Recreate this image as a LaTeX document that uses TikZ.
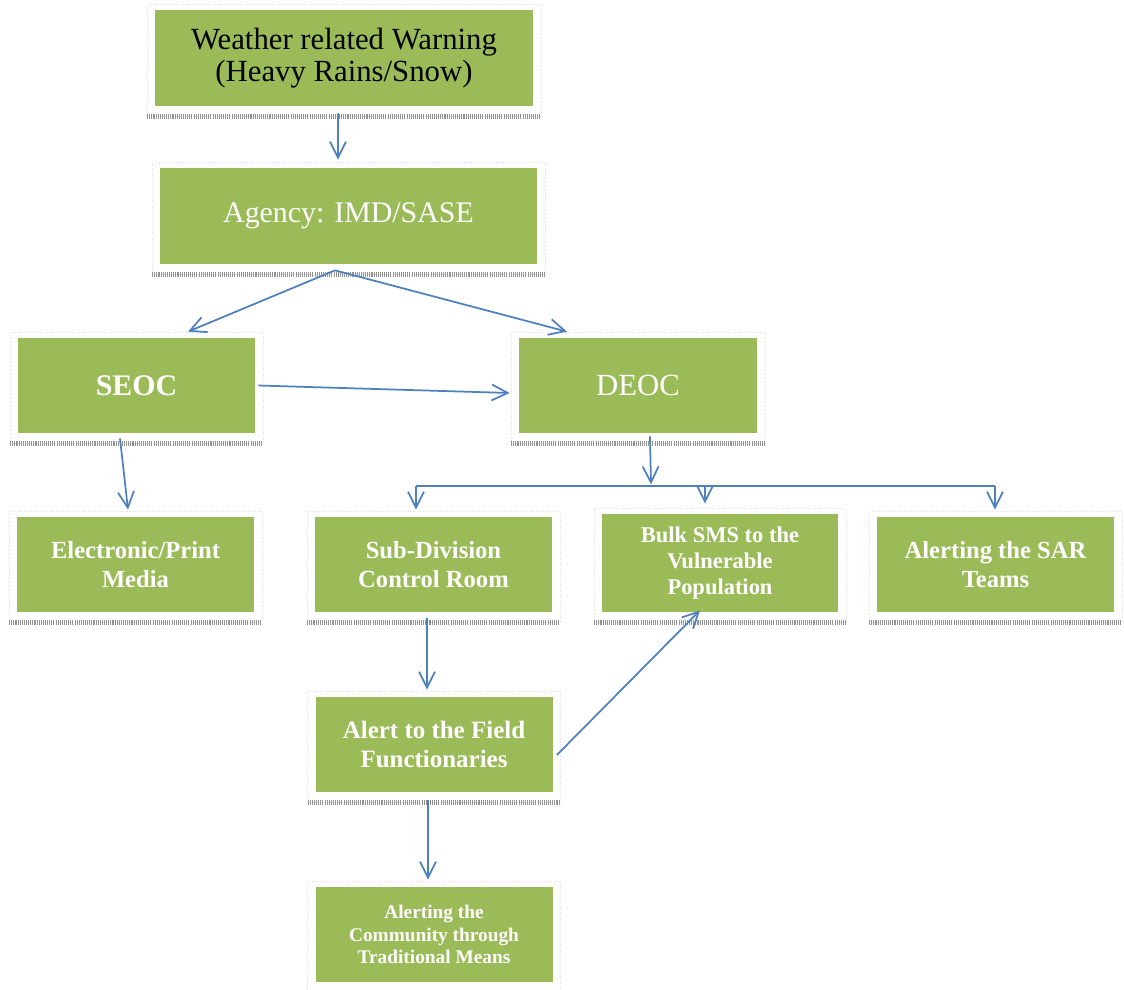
\documentclass[tikz,border=0pt]{standalone}
\usepackage{fontspec}
\setmainfont{Liberation Serif}
\usepackage{xcolor}
\usetikzlibrary{arrows.meta}

\definecolor{boxgreen}{HTML}{9BBB59}
\definecolor{arrowblue}{HTML}{4F81BD}

\begin{document}
\begin{tikzpicture}[
    box/.style={fill=boxgreen, draw=none, text=white, align=center, minimum width=4.74cm, minimum height=1.9cm, inner sep=0pt},
    big/.style={font=\fontsize{17}{19}\selectfont},
    mid/.style={font=\bfseries\fontsize{14}{16.8}\selectfont},
    frameline/.style={gray!25, densely dotted, line width=0.4pt},
    hatch/.style={gray!85, line width=2.6pt, dash pattern=on 0.6pt off 0.6pt},
    arr/.style={arrowblue, line width=1pt, -{Straight Barb[length=3.2mm,width=3.2mm,line width=1pt]}},
    line/.style={arrowblue, line width=1.2pt}
]
    \clip (0,0) rectangle (22.48,-19.8);

    % boxes
    \node[box, text=black, font=\fontsize{17.5}{19}\selectfont, minimum width=7.56cm, minimum height=1.92cm] (weather) at (6.88,-1.16) {Weather related Warning\\[-0.5pt](Heavy Rains/Snow)};
    \node[box, big, minimum width=7.54cm, minimum height=1.92cm] (agency) at (6.97,-4.32) {Agency: IMD/SASE};
    \node[box, font=\bfseries\fontsize{17}{19}\selectfont] (seoc) at (2.73,-7.71) {SEOC};
    \node[box, font=\fontsize{17.5}{19}\selectfont, minimum width=4.76cm] (deoc) at (12.76,-7.71) {DEOC};
    \node[box, mid] (media) at (2.71,-11.29) {Electronic/Print\\Media};
    \node[box, mid] (subdiv) at (8.67,-11.29) {Sub-Division\\Control Room};
    \node[box, font=\bfseries\fontsize{12.8}{15}\selectfont, minimum width=4.72cm, minimum height=1.96cm] (sms) at (14.4,-11.26) {Bulk SMS to the\\Vulnerable\\Population};
    \node[box, mid] (sar) at (19.91,-11.29) {Alerting the SAR\\Teams};
    \node[box, font=\bfseries\fontsize{14.2}{17}\selectfont] (field) at (8.68,-14.89) {Alert to the Field\\Functionaries};
    \node[box, font=\bfseries\fontsize{11}{13}\selectfont] (community) at (8.68,-18.69) {Alerting the\\Community through\\Traditional Means};

    % frames with hatched bottom
    \foreach \n in {weather,agency,seoc,deoc,media,subdiv,sms,sar,field,community} {
        \draw[frameline] ([xshift=-0.15cm,yshift=-0.2cm]\n.south west) rectangle ([xshift=0.15cm,yshift=0.1cm]\n.north east);
        \draw[hatch] ([xshift=-0.15cm,yshift=-0.2cm]\n.south west) -- ([xshift=0.15cm,yshift=-0.2cm]\n.south east);
    }

    % connectors
    \coordinate (fork) at ([xshift=-0.27cm,yshift=-0.12cm]agency.south);
    \coordinate (split) at ([xshift=0.26cm,yshift=-1.02cm]deoc.south);
    \coordinate (b1) at (8.32,-9.72);
    \coordinate (b2) at (14.1,-9.72);
    \coordinate (b3) at (19.9,-9.72);

    \draw[arr] ([xshift=-0.12cm,yshift=-0.14cm]weather.south) -- ([xshift=-0.21cm,yshift=0.16cm]agency.north);
    \draw[arr] (fork) -- ([xshift=1.03cm,yshift=0.12cm]seoc.north);
    \draw[arr] (fork) -- ([xshift=-1.42cm,yshift=0.12cm]deoc.north);
    \draw[arr] ([xshift=0.06cm]seoc.east) -- ([xshift=-0.18cm,yshift=-0.15cm]deoc.west);
    \draw[arr] ([xshift=-0.33cm,yshift=-0.1cm]seoc.south) -- ([xshift=-0.15cm,yshift=0.14cm]media.north);
    \draw[arr] ([xshift=0.24cm,yshift=-0.06cm]deoc.south) -- (split);
    \draw[line] (b1) -- (b3);
    \draw[arr] (b1) -- ([yshift=0.14cm]b1 |- subdiv.north);
    \draw[arr] (b2) -- ([yshift=0.2cm]b2 |- sms.north);
    \draw[arr] (b3) -- ([yshift=0.14cm]b3 |- sar.north);
    \draw[arr] ([xshift=-0.13cm,yshift=-0.12cm]subdiv.south) -- ([xshift=-0.14cm,yshift=0.14cm]field.north);
    \draw[arr] ([xshift=0.08cm,yshift=-0.21cm]field.east) -- ([xshift=-0.4cm,yshift=0.04cm]sms.south);
    \draw[arr] ([xshift=-0.12cm,yshift=-0.16cm]field.south) -- ([xshift=-0.12cm,yshift=0.14cm]community.north);
\end{tikzpicture}
\end{document}
